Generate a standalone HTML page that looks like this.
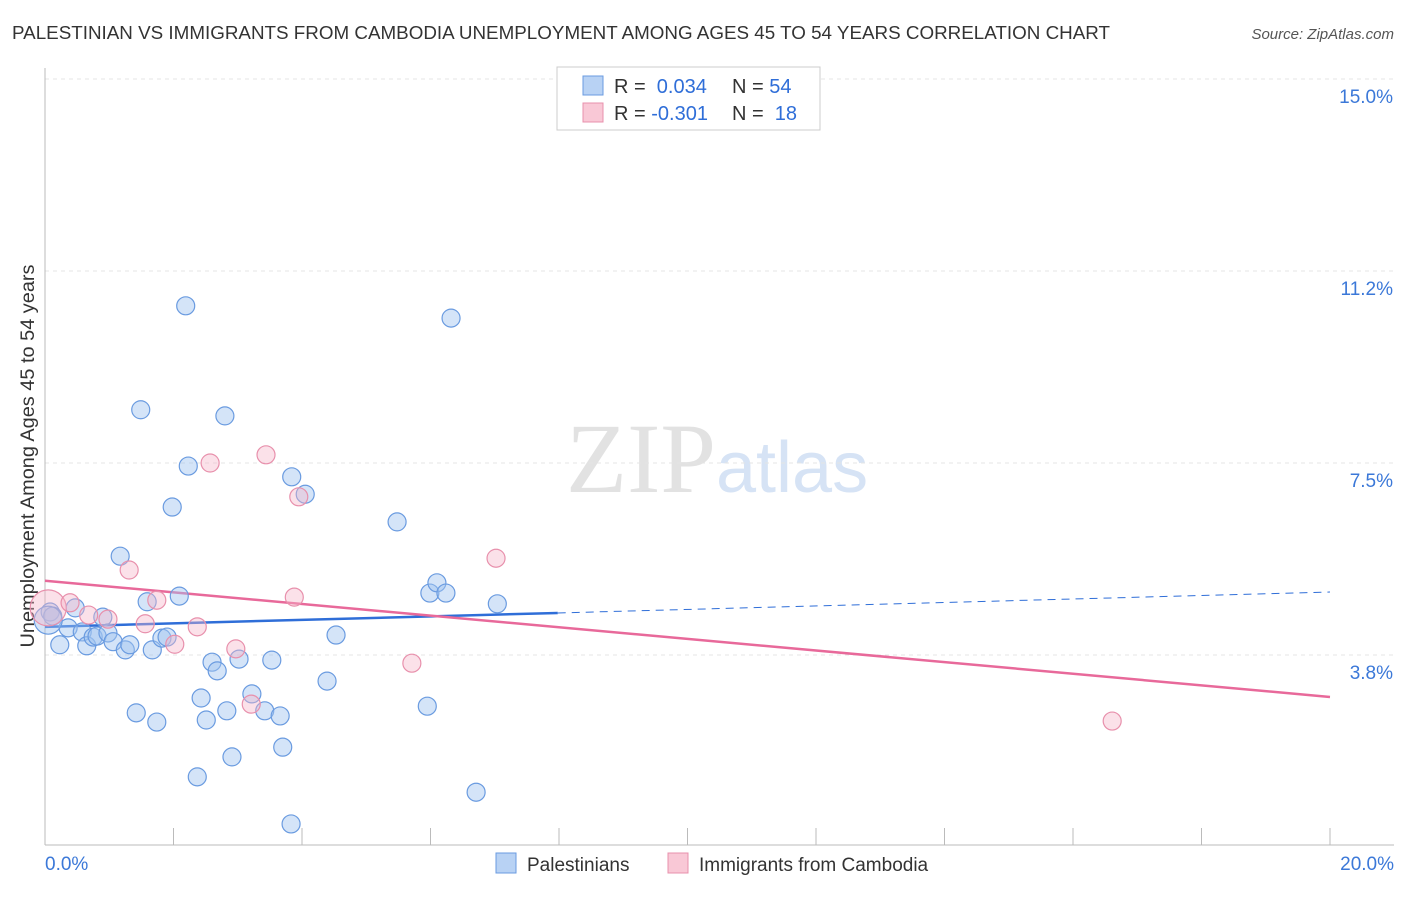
<!DOCTYPE html>
<html><head><meta charset="utf-8"><style>
body{margin:0;background:#fff;font-family:"Liberation Sans",sans-serif}
</style></head><body>
<svg id="chart" width="1406" height="892" xmlns="http://www.w3.org/2000/svg" font-family="Liberation Sans, sans-serif">
<text x="12" y="39" font-size="18" fill="#333" textLength="1098" lengthAdjust="spacingAndGlyphs">PALESTINIAN VS IMMIGRANTS FROM CAMBODIA UNEMPLOYMENT AMONG AGES 45 TO 54 YEARS CORRELATION CHART</text>
<text x="1394" y="39" font-size="15" fill="#555" font-style="italic" text-anchor="end">Source: ZipAtlas.com</text>
<text x="716" y="492" font-size="100" fill="#e2e2e2" text-anchor="end" font-family="Liberation Serif, serif">ZIP</text>
<text x="716" y="492" font-size="72" fill="#d6e3f5">atlas</text>
<text transform="translate(34,456) rotate(-90)" font-size="19" fill="#333" text-anchor="middle" textLength="383" lengthAdjust="spacingAndGlyphs">Unemployment Among Ages 45 to 54 years</text>
<g id="grid"></g><g id="trend"></g><g id="pts"></g>
<g>
<rect x="557" y="67" width="263" height="63" fill="#fff" stroke="#ccc"/>
<rect x="583" y="76" width="20" height="19" fill="#b8d2f4" stroke="#6a9be0"/>
<rect x="583" y="103" width="20" height="19" fill="#f9c8d6" stroke="#e890ac"/>
<text x="614" y="93" font-size="20" fill="#333">R = <tspan fill="#2f6ed8">&#160;0.034</tspan><tspan x="732">N = </tspan><tspan fill="#2f6ed8">54</tspan></text>
<text x="614" y="120" font-size="20" fill="#333">R = <tspan fill="#2f6ed8">-0.301</tspan><tspan x="732">N = </tspan><tspan fill="#2f6ed8">&#160;18</tspan></text>
</g>
<g>
<rect x="496" y="853" width="20" height="20" fill="#b8d2f4" stroke="#6a9be0"/>
<text x="527" y="871" font-size="19" fill="#333">Palestinians</text>
<rect x="668" y="853" width="20" height="20" fill="#f9c8d6" stroke="#e890ac"/>
<text x="699" y="871" font-size="19" fill="#333">Immigrants from Cambodia</text>
</g>
</svg>
<script>
const yTicks=[3.75,7.5,11.25,15];
const yTickLabels=["3.8%","7.5%","11.2%","15.0%"];
const xTickCount=10;
const xLabels=["0.0%","20.0%"];
const blueX=[0.08,0.12,0.23,0.36,0.47,0.58,0.65,0.75,0.81,0.90,0.98,1.06,1.17,1.25,1.32,1.42,1.49,1.59,1.67,1.74,1.82,1.90,1.98,2.09,2.19,2.23,2.37,2.43,2.51,2.60,2.68,2.80,2.83,2.91,3.02,3.22,3.42,3.53,3.66,3.70,3.83,3.84,4.05,4.39,4.53,5.48,5.95,5.99,6.10,6.24,6.32,6.71,7.04,0.05];
const blueY=[4.59,4.51,3.95,4.28,4.67,4.20,3.93,4.10,4.12,4.49,4.18,4.01,5.68,3.85,3.95,2.62,8.54,4.79,3.85,2.44,4.08,4.10,6.64,4.90,10.57,7.44,1.37,2.91,2.48,3.61,3.44,8.42,2.66,1.76,3.67,2.99,2.66,3.65,2.56,1.95,0.45,7.23,6.89,3.24,4.14,6.35,2.75,4.96,5.16,4.96,10.33,1.07,4.75,4.43];
const pinkX=[0.05,0.39,0.68,0.98,1.31,1.56,1.74,2.02,2.37,2.57,2.97,3.21,3.44,3.88,3.95,5.71,7.02,16.61];
const pinkY=[4.67,4.77,4.53,4.45,5.41,4.36,4.82,3.96,4.30,7.50,3.87,2.79,7.66,4.88,6.84,3.59,5.64,2.46];
const blueTrend=[4.30,4.98];
const pinkTrend=[5.20,2.93];
const blueSolidEnd=7.98;
const NS="http://www.w3.org/2000/svg";
const X=v=>45+v/20*1285, Y=v=>79+(15-v)*51.2;
function mk(t,a,p){const e=document.createElementNS(NS,t);for(const k in a)e.setAttribute(k,a[k]);p.appendChild(e);return e;}
const g=document.getElementById('grid');
yTicks.forEach((t,i)=>{const l=mk('line',{x1:45,x2:1394,y1:Y(t),y2:Y(t),stroke:'#e4e4e4','stroke-dasharray':'4,4'},g);


const tx=mk('text',{x:1393,y:Y(t)+24,'font-size':19,fill:'#3b78d8','text-anchor':'end'},g);tx.textContent=yTickLabels[i];

});
const ax=mk('line',{x1:45,x2:1394,y1:845,y2:845,stroke:'#bbb'},g);


const ay=mk('line',{x1:45,x2:45,y1:68,y2:845,stroke:'#bbb'},g);


for(let i=1;i<=xTickCount;i++){const t=mk('line',{x1:X(i*2),x2:X(i*2),y1:828,y2:845,stroke:'#bbb'},g);

}
[[0,'start',45],[20,'end',1394]].forEach((d,i)=>{const t=mk('text',{x:d[2],y:870,'font-size':19,fill:'#3b78d8','text-anchor':d[1]},g);t.textContent=xLabels[i];

});
const tr=document.getElementById('trend');
const bAt=x=>blueTrend[0]+(blueTrend[1]-blueTrend[0])*x/20, pAt=x=>pinkTrend[0]+(pinkTrend[1]-pinkTrend[0])*x/20;
let l1=mk('line',{x1:X(0),y1:Y(bAt(0)),x2:X(blueSolidEnd),y2:Y(bAt(blueSolidEnd)),stroke:'#2f6ed8','stroke-width':2.5},tr);


let l2=mk('line',{x1:X(blueSolidEnd),y1:Y(bAt(blueSolidEnd)),x2:X(20),y2:Y(bAt(20)),stroke:'#2f6ed8','stroke-width':1,'stroke-dasharray':'8,6'},tr);


let l3=mk('line',{x1:X(0),y1:Y(pAt(0)),x2:X(20),y2:Y(pAt(20)),stroke:'#e8699a','stroke-width':2.5},tr);


const pg=document.getElementById('pts');
blueX.forEach((x,i)=>{const c=mk('circle',{cx:X(x),cy:Y(blueY[i]),r:i==blueX.length-1?14:9,fill:'rgba(160,195,240,0.45)',stroke:'#6a9be0','stroke-width':1.2},pg);

});
pinkX.forEach((x,i)=>{const c=mk('circle',{cx:X(x),cy:Y(pinkY[i]),r:i==0?18:9,fill:'rgba(245,180,200,0.4)',stroke:'#e890ac','stroke-width':1.2},pg);

});
</script>
</body></html>
